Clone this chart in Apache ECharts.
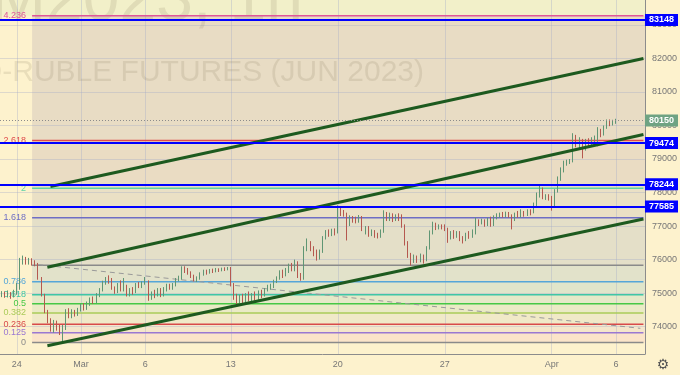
<!DOCTYPE html>
<html><head><meta charset="utf-8">
<script src="https://cdn.jsdelivr.net/npm/echarts@6/dist/echarts.min.js"></script>
<style>html,body{margin:0;padding:0;background:#fdf2cd}#c{width:680px;height:375px}</style>
</head><body><div id="c"></div>
<script>
// ---- categories (hourly-ish bars, 7 per session) ----
const tradingDays = ['02-22','02-24','02-27','02-28','03-01','03-02','03-03','03-06','03-07','03-09','03-10','03-13','03-14','03-15','03-16','03-17','03-20','03-21','03-22','03-23','03-24','03-27','03-28','03-29','03-30','03-31','04-03','04-04','04-05','04-06','04-07'];
const barHours = ['10:00','12:00','14:00','16:00','18:00','20:00','22:00'];
const xTickDays = ['02-24','03-01','03-06','03-13','03-20','03-27','04-03','04-06'];
const xTickLabels = ['24','Mar','6','13','20','27','Apr','6'];
const yTickValues = [74000,75000,76000,77000,78000,79000,80000,81000,82000,83000];
const yMin = 73184, yMax = 83743;

// ---- candles [open, close, low, high] ----
const candlesFeb22 = [
[74950,75020,74880,75060],[75020,74920,74860,75050],[74920,75000,74870,75080],[75000,74900,74830,75030],[74900,75050,74870,75100],
[75050,75150,74950,75300],[75150,75950,75100,76050],[75950,76000,75850,76120],[76000,75920,75850,76080],[75920,75980,75850,76050],[75980,75900,75820,76040],[75900,75880,75800,75980]];
const candlesFeb27 = [
[75880,75450,75400,75900],[75450,74950,74900,75480],[74950,74450,74400,74980],[74450,74150,74100,74500],[74150,73900,73850,74250],[73900,74100,73820,74200],[74100,73950,73880,74180],
[73950,73850,73750,74050],[73850,73950,73530,74050],[73950,74450,73900,74520],[74450,74300,74250,74550],[74300,74450,74250,74520],[74450,74380,74300,74500],[74380,74500,74320,74560],
[74500,74600,74450,74680],[74600,74550,74480,74700],[74550,74680,74500,74750],[74680,74800,74620,74870],[74800,74750,74680,74900],[74750,74950,74700,75000],[74950,75100,74880,75150],
[75100,75300,75050,75370],[75300,75420,75250,75480],[75420,75350,75280,75530],[75350,75150,75100,75450],[75150,75050,74980,75200],[75050,75250,75000,75300],[75250,75100,75050,75380],
[75100,75200,75050,75450],[75200,74950,74900,75250],[74950,75100,74900,75150],[75100,75050,74950,75180],[75050,75250,75000,75300],[75250,75200,75150,75330],[75200,75300,75150,75350]];
const candlesMar6 = [
[75300,75350,75250,75480],[75350,74850,74770,75380],[74850,75000,74800,75050],[75000,74950,74850,75100],[74950,75100,74900,75150],[75100,74950,74880,75150],[74950,75100,74900,75180],
[75100,75200,75050,75280],[75200,75150,75100,75280],[75150,75250,75100,75300],[75250,75400,75200,75450],[75400,75450,75350,75520],[75450,75750,75400,75800],[75750,75680,75600,75800],
[75680,75600,75550,75750],[75600,75500,75450,75650],[75500,75400,75350,75550],[75400,75450,75330,75500],[75450,75580,75400,75620],[75580,75650,75520,75700],[75650,75600,75550,75700],
[75600,75680,75580,75720],[75680,75650,75600,75730],[75650,75700,75620,75750],[75700,75680,75630,75740],[75680,75720,75650,75760],[75720,75700,75660,75770],[75700,75750,75680,75780]];
const candlesMar13 = [
[75750,75250,75200,75780],[75250,74900,74800,75300],[74900,74750,74650,74980],[74750,74900,74680,74950],[74900,74800,74700,74980],[74800,74950,74720,75000],[74950,74850,74750,75050],
[74850,74900,74750,75000],[74900,74850,74780,75050],[74850,75000,74800,75080],[75000,74950,74850,75100],[74950,75100,74900,75150],[75100,75150,75050,75250],[75150,75200,75100,75280],
[75200,75350,75150,75400],[75350,75450,75300,75500],[75450,75600,75400,75680],[75600,75550,75450,75700],[75550,75700,75500,75750],[75700,75800,75600,75880],[75800,75700,75650,75900],
[75700,75900,75650,76000],[75900,75500,75450,75950],[75500,75450,75370,75600],[75450,76300,75400,76400],[76300,76500,76250,76630],[76500,76300,76250,76550],[76300,76200,76100,76400],
[76200,76050,75970,76300],[76050,76250,76000,76300],[76250,76650,76200,76700],[76650,76800,76600,76880],[76800,76750,76680,76900],[76750,76850,76700,76920],[76850,76800,76720,76930]];
const candlesMar20 = [
[76800,77500,76780,77620],[77500,77400,77300,77580],[77400,77350,77280,77480],[77350,77100,76570,77400],[77100,77250,77000,77320],[77250,77200,77100,77300],[77200,77150,77080,77280],
[77150,77250,77100,77330],[77250,76900,76850,77300],[76900,76950,76750,77000],[76950,76750,76680,77000],[76750,76850,76700,76900],[76850,76750,76650,76880],[76750,76700,76630,76800],
[76700,76850,76650,76900],[76850,77350,76800,77470],[77350,77250,77150,77420],[77250,77350,77150,77400],[77350,77200,77120,77380],[77200,77300,77150,77350],[77300,77250,77150,77380],
[77250,77000,76950,77350],[77000,76500,76420,77050],[76500,76150,76050,76550],[76150,75950,75820,76200],[75950,76050,75900,76150],[76050,75980,75900,76120],[75980,76100,75920,76180],
[76100,76000,75880,76150],[76000,76350,75950,76400],[76350,76800,76300,76870],[76800,77050,76750,77130],[77050,76950,76880,77100],[76950,77000,76900,77050],[77000,76950,76900,77050]];
const candlesMar27 = [
[76950,76900,76850,77050],[76900,76650,76500,76950],[76650,76800,76600,76850],[76800,76700,76620,76880],[76700,76800,76650,76850],[76800,76650,76550,76850],[76650,76600,76480,76700],
[76600,76750,76550,76800],[76750,76700,76620,76850],[76700,76800,76650,76900],[76800,77150,76750,77250],[77150,77100,77000,77200],[77100,77150,77050,77220],[77150,77050,76980,77200],
[77050,77200,77000,77250],[77200,77050,76980,77280],[77050,77250,77000,77320],[77250,77300,77200,77380],[77300,77350,77250,77400],[77350,77300,77250,77420],[77300,77380,77260,77430],
[77380,77300,77250,77420],[77300,77200,76900,77350],[77200,77350,77150,77400],[77350,77300,77250,77450],[77300,77400,77250,77500],[77400,77350,77280,77450],[77350,77450,77300,77500],
[77450,77400,77320,77500],[77400,77650,77380,77700],[77650,77900,77600,78000],[77900,78050,77850,78240],[78050,77850,77800,78150],[77850,77900,77780,77950],[77900,77850,77760,77950]];
const candlesApr3 = [
[77850,77600,77460,77900],[77600,78050,77550,78100],[78050,78400,78000,78480],[78400,78650,78350,78750],[78650,78850,78600,78950],[78850,78900,78800,78980],[78900,78950,78850,79000],
[78950,79650,78900,79770],[79650,79450,79350,79720],[79450,79550,79320,79650],[79550,79300,79020,79600],[79300,79500,79250,79600],[79500,79450,79380,79620],[79450,79550,79400,79650],
[79550,79600,79480,79700],[79600,79850,79380,79950],[79850,79750,79650,79900],[79750,79950,79700,80000],[79950,80100,79900,80180],[80100,80050,79980,80180],[80050,80100,80000,80170],
[80100,80150,80050,80200]];

// ---- drawings ----
const fibLow = 73530, fibHigh = 75830;
const fibRatios = [0, 0.125, 0.236, 0.382, 0.5, 0.618, 0.786, 1, 1.618, 2, 2.618, 4.236];
const fibLabels = ['0','0.125','0.236','0.382','0.5','0.618','0.786','','1.618','2','2.618','4.236'];
const fibStart = '02-24 20:00', rightEnd = '04-07 14:00';
const levelLines = [83148, 79474, 78244, 77585];
const lastPrice = 80150;
const channelUpper = [['02-27 18:00', 78180], ['04-07 14:00', 82000]];
const channelMiddle = [['02-27 16:00', 75770], ['04-07 14:00', 79730]];
const channelLower = [['02-27 16:00', 73430], ['04-07 14:00', 77210]];
const dashedLine = [['02-27 10:00', 75850], ['04-07 12:00', 73950]];

// ---- styles ----
const fibColors = ['#8a8a8a','#9a78d2','#d84a4a','#aacb58','#45c845','#3fc6a6','#55a6d8','#8a8a8a','#6e6ec4','#5fd3a5','#e04c4c','#e0559a'];
const bandColors = ['#fbe4c9','#f5e6cb','#f0e9c8','#eaeac6','#e5e9c8','#e0e5ca','#e2e2ca','#e4dfc8','#eae0c5','#eadcc3','#e8dcc4'];

const allCats = [];
tradingDays.forEach(d => barHours.forEach(h => allCats.push(d + ' ' + h)));
const cats = allCats.slice(2, 2 + 211);
const candles = [].concat(candlesFeb22, candlesFeb27, candlesMar6, candlesMar13, candlesMar20, candlesMar27, candlesApr3);
const tickMap = {};
xTickDays.forEach((d, i) => { tickMap[d + ' 10:00'] = xTickLabels[i]; });
const fibLevels = fibRatios.map(r => fibLow + r * (fibHigh - fibLow));

const bands = [[{yAxis: fibLevels[11], itemStyle: {color: '#f2f0c9'}}, {yAxis: yMax}]];
for (let k = 0; k < fibLevels.length - 1; k++) {
  bands.push([{xAxis: fibStart, yAxis: fibLevels[k], itemStyle: {color: bandColors[k]}}, {yAxis: fibLevels[k + 1]}]);
}

const series = [];
series.push({type: 'line', data: [], silent: true,
  markArea: {silent: true, z: 1, data: bands}});
series.push({type: 'line', data: [], silent: true,
  markLine: {silent: true, z: 1, symbol: ['none','none'], label: {show: false},
    lineStyle: {color: 'rgba(160,170,200,0.35)', width: 1, type: 'solid'},
    data: yTickValues.map(v => ({yAxis: v})).concat(Object.keys(tickMap).map(c => ({xAxis: c})))}});
fibLevels.forEach((lv, k) => {
  series.push({type: 'line', silent: true, z: 3, symbol: 'circle', symbolSize: 0.01, showSymbol: true,
    lineStyle: {color: fibColors[k], width: 1.5}, itemStyle: {color: fibColors[k]},
    data: [{value: [fibStart, lv], label: {show: fibLabels[k] !== '', position: 'left', distance: 6,
              formatter: fibLabels[k], color: fibColors[k], fontSize: 9, fontFamily: 'Liberation Sans'}},
           [rightEnd, lv]]});
});
series.push({type: 'line', silent: true, z: 3, symbol: 'none', data: dashedLine,
  lineStyle: {color: '#9a9a9a', width: 1, type: [5, 4]}});
series.push({type: 'candlestick', z: 4, silent: true, data: candles, barWidth: 1,
  itemStyle: {color: '#6a9f7f', color0: '#c0625a', borderColor: '#5f9674', borderColor0: '#b5584f', borderWidth: 1}});
[channelUpper, channelMiddle, channelLower].forEach(ch => {
  series.push({type: 'line', silent: true, z: 5, symbol: 'none', data: ch,
    lineStyle: {color: '#1d5a1f', width: 3}});
});
series.push({type: 'line', data: [], silent: true,
  markLine: {silent: true, z: 6, symbol: ['none','none'],
    data: levelLines.map(v => ({yAxis: v, lineStyle: {color: '#0000ff', width: 2, type: 'solid'},
      label: {show: true, position: 'end', distance: 0, formatter: String(v), backgroundColor: '#0000ff',
        color: '#ffffff', fontSize: 9, fontWeight: 'bold', fontFamily: 'Liberation Sans', padding: [2, 4, 1, 4]}}))
      .concat([{yAxis: lastPrice, lineStyle: {color: '#8c8c8c', width: 1, type: [1, 2]},
      label: {show: true, position: 'end', distance: 0, formatter: String(lastPrice), backgroundColor: '#6fa383',
        color: '#ffffff', fontSize: 9, fontWeight: 'bold', fontFamily: 'Liberation Sans', padding: [2, 4, 1, 4]}}])}});

const chart = echarts.init(document.getElementById('c'), null, {renderer: 'canvas'});
chart.setOption({
  animation: false,
  backgroundColor: '#fdf2cd',
  grid: {left: 0, right: 34, top: 0, bottom: 21, containLabel: false},
  xAxis: {type: 'category', data: cats, boundaryGap: true,
    axisLine: {show: true, lineStyle: {color: '#8c8c8c'}}, axisTick: {show: false},
    axisLabel: {interval: (i, v) => tickMap[v] !== undefined, formatter: v => tickMap[v] || '',
      color: '#777', fontSize: 9, margin: 6, fontFamily: 'Liberation Sans'},
    splitLine: {show: false}},
  yAxis: {type: 'value', position: 'right', min: yMin, max: yMax,
    axisLine: {show: true, lineStyle: {color: '#8c8c8c'}}, axisTick: {show: false, customValues: yTickValues},
    axisLabel: {customValues: yTickValues, formatter: v => String(v), color: '#777', fontSize: 9, margin: 7, fontFamily: 'Liberation Sans'},
    splitLine: {show: false}},
  graphic: {elements: [
    {type: 'text', z: 2, x: 303, y: 2, silent: true,
      style: {text: 'SiM2023, 1h', fontSize: 66, fontFamily: 'Liberation Sans', fill: 'rgba(120,110,80,0.15)', align: 'right', verticalAlign: 'middle'}},
    {type: 'text', z: 2, x: 424, y: 73, silent: true,
      style: {text: 'USD-RUBLE FUTURES (JUN 2023)', fontSize: 30, fontFamily: 'Liberation Sans', fill: 'rgba(120,110,80,0.15)', align: 'right', verticalAlign: 'middle'}},
    {type: 'text', z: 2, x: 663, y: 365, silent: true,
      style: {text: '\u2699', fontSize: 14, fontFamily: 'DejaVu Sans', fill: '#555', align: 'center', verticalAlign: 'middle'}}
  ]},
  series: series
});
</script></body></html>
